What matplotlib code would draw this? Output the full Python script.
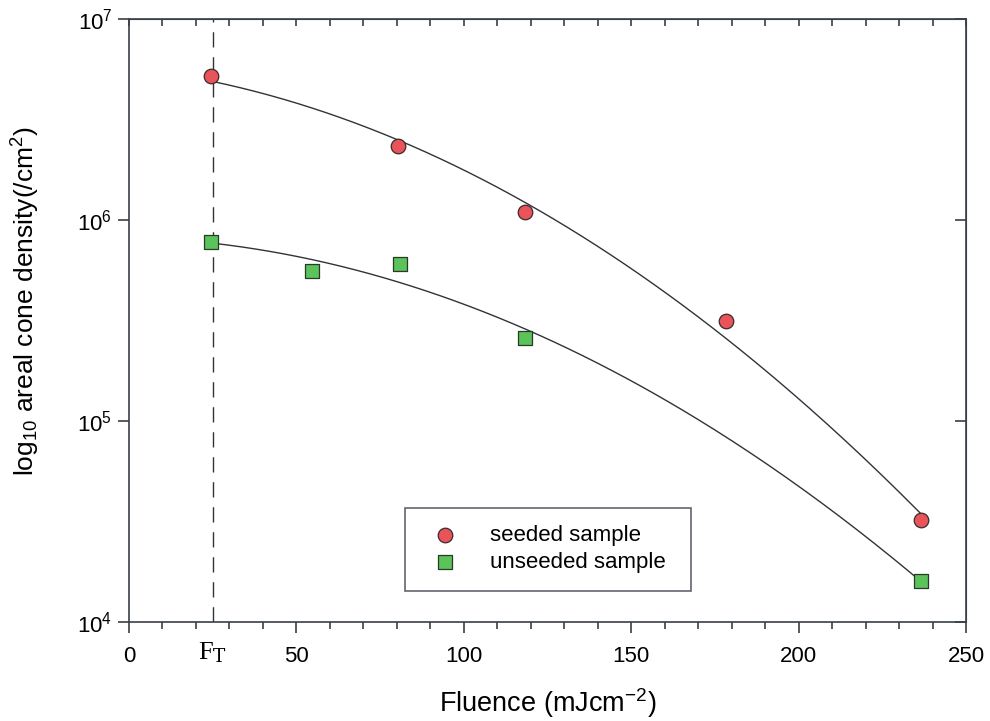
import numpy as np
import matplotlib
matplotlib.use("Agg")
import matplotlib.pyplot as plt
from matplotlib.ticker import MultipleLocator, NullLocator, FixedLocator, NullFormatter
import matplotlib.transforms as mtransforms

plt.rcParams['font.family'] = ['Liberation Sans', 'DejaVu Sans']
plt.rcParams['mathtext.fontset'] = 'custom'
plt.rcParams['mathtext.rm'] = 'Liberation Sans'
plt.rcParams['mathtext.it'] = 'Liberation Sans:italic'
plt.rcParams['mathtext.default'] = 'regular'

# Data
seeded_x = [24.5, 80.3, 118.2, 178.4, 236.4]
seeded_y = [5.2e6, 2.33e6, 1.1e6, 3.15e5, 3.2e4]
unseeded_x = [24.6, 54.6, 80.8, 118.4, 236.6]
unseeded_y = [7.8e5, 5.57e5, 6.04e5, 2.59e5, 1.6e4]
threshold_fluence = 25
x_ticks = [0, 50, 100, 150, 200, 250]
y_ticks = [1e4, 1e5, 1e6, 1e7]

axis_color = '#3a4048'
fig = plt.figure(figsize=(9.9, 7.21), dpi=100)
ax = fig.add_axes([0.1303, 0.1373, 0.8455, 0.8363])

# fitted curves (quadratic in log space)
for xs, ys in [(seeded_x, seeded_y), (unseeded_x, unseeded_y)]:
    c = np.polyfit(xs, np.log10(ys), 2)
    xf = np.linspace(threshold_fluence, max(xs), 200)
    ax.plot(xf, 10 ** np.polyval(c, xf), color='#30343a', lw=1.0, zorder=2)

ax.axvline(threshold_fluence, color='#30343a', lw=1.0, dashes=(11, 7), zorder=1)

ax.scatter(seeded_x, seeded_y, marker='o', s=110, facecolor='#e8545a',
           edgecolor='#3a2a2a', linewidth=0.9, zorder=3, label='seeded sample')
ax.scatter(unseeded_x, unseeded_y, marker='s', s=100, facecolor='#5cc25a',
           edgecolor='#2a3a2a', linewidth=0.9, zorder=3, label='unseeded sample')

ax.set_yscale('log')
ax.set_xlim(0, 250)
ax.set_ylim(1e4, 1e7)
ax.xaxis.set_major_locator(FixedLocator(x_ticks))
ax.xaxis.set_minor_locator(MultipleLocator(10))
ax.yaxis.set_major_locator(FixedLocator(y_ticks))
ax.yaxis.set_minor_locator(NullLocator())

for s in ax.spines.values():
    s.set_color(axis_color)
    s.set_linewidth(1.2)

ax.tick_params(which='major', direction='out', length=8, width=1.2, color=axis_color,
               labelsize=16, pad=9, top=False, right=False)
ax.tick_params(which='minor', direction='out', length=5, width=1.2, color=axis_color,
               top=False, right=False)
ax.tick_params(axis='y', which='major', pad=4)

secx = ax.secondary_xaxis('top')
secx.xaxis.set_major_locator(FixedLocator(x_ticks))
secx.xaxis.set_minor_locator(MultipleLocator(10))
secx.xaxis.set_major_formatter(NullFormatter())
secx.tick_params(which='both', direction='in', length=5, width=1.2, color=axis_color)
secx.spines['top'].set_color(axis_color)

secy = ax.secondary_yaxis('right')
secy.set_yscale('log')
secy.yaxis.set_major_locator(FixedLocator(y_ticks))
secy.yaxis.set_minor_locator(NullLocator())
secy.yaxis.set_major_formatter(NullFormatter())
secy.tick_params(which='both', direction='in', length=8, width=1.2, color=axis_color)
secy.spines['right'].set_color(axis_color)

trans = mtransforms.blended_transform_factory(ax.transData, ax.transAxes)
ax.text(threshold_fluence, -0.030, r'F$_{\mathrm{T}}$', transform=trans, ha='center', va='top',
        fontsize=19, family='Liberation Serif', math_fontfamily='dejavuserif')

ax.set_xlabel('Fluence (mJcm$^{-2}$)', fontsize=19.5, labelpad=14)
ax.set_ylabel('log$_{10}$ areal cone density(/cm$^{2}$)', fontsize=19)
ax.yaxis.set_label_coords(-0.104, 0.532)

leg = ax.legend(loc='lower left', bbox_to_anchor=(0.330, 0.052, 0.342, 0.152), mode='expand',
                fontsize=16, frameon=True, fancybox=False, edgecolor=axis_color,
                borderpad=0.8, handletextpad=1.0, labelspacing=0.25, scatterpoints=1,
                borderaxespad=0)
leg.get_frame().set_linewidth(1.2)

fig.savefig('out.png', dpi=100)
